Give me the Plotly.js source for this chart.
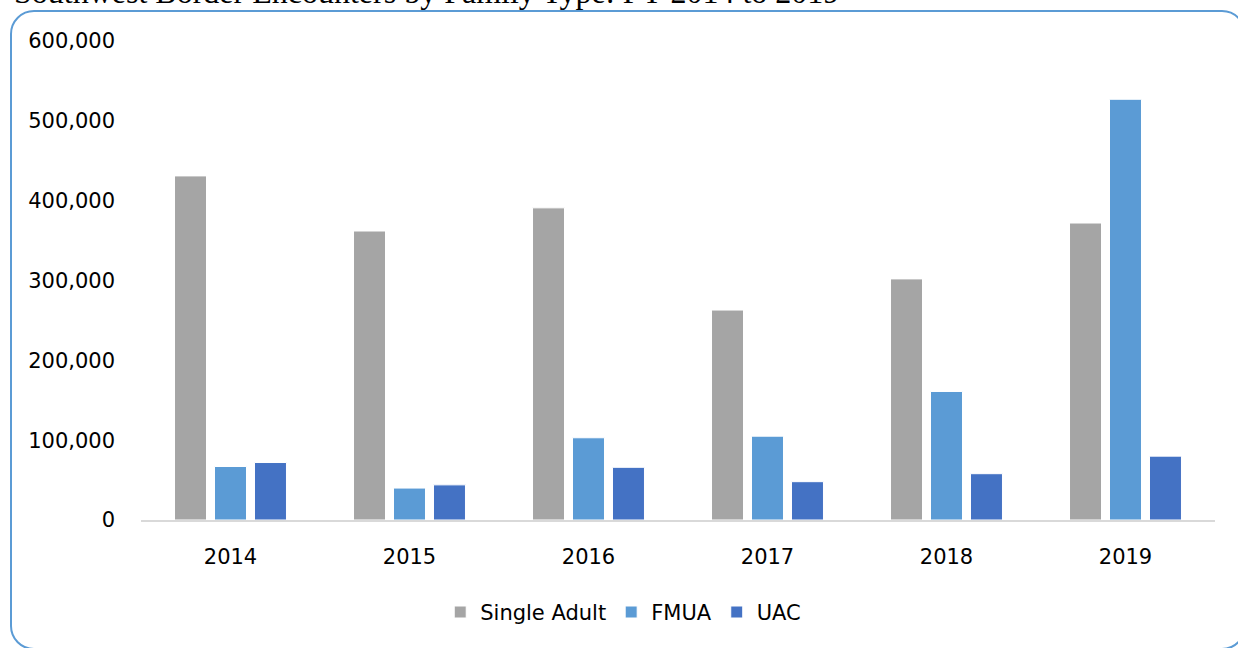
<!DOCTYPE html>
<html>
<head>
<meta charset="utf-8">
<script src="https://cdn.plot.ly/plotly-3.0.1.min.js"></script>
<style>
  html, body { margin: 0; padding: 0; background: #ffffff; overflow: hidden; }
  #frame { position: absolute; left: 10px; top: 10px; width: 1236px; height: 640px;
           border: 2px solid #5b9bd5; border-radius: 24px; box-sizing: border-box; }
  #chart { position: absolute; left: 0; top: 0; width: 1238px; height: 648px; }
</style>
</head>
<body>
<div id="frame"></div>
<div id="chart"></div>
<script>
const years = ["2014", "2015", "2016", "2017", "2018", "2019"];
const singleAdult = [431000, 362000, 391000, 263000, 302000, 372000];
const fmua = [67000, 40000, 103000, 105000, 161000, 527000];
const uac = [72000, 44000, 66000, 48000, 58000, 80000];
const seriesNames = ["Single Adult", "FMUA", "UAC"];
const seriesColors = ["#a5a5a5", "#5b9bd5", "#4472c4"];
const yTicks = [0, 100000, 200000, 300000, 400000, 500000, 600000];
const titleText = "Southwest Border Encounters by Family Type: FY 2014 to 2019";

const seriesValues = [singleAdult, fmua, uac];
const traces = seriesValues.map((vals, i) => ({
  type: "bar",
  name: seriesNames[i],
  x: years,
  y: vals,
  marker: { color: seriesColors[i], line: { color: "#ffffff", width: 1 } },
  hoverinfo: "x+y+name"
}));

const layout = {
  width: 1238,
  height: 648,
  margin: { l: 141, r: 23, t: 41, b: 128 },
  paper_bgcolor: "rgba(0,0,0,0)",
  plot_bgcolor: "rgba(0,0,0,0)",
  font: { family: "'DejaVu Sans', sans-serif", size: 21, color: "#000000" },
  barmode: "group",
  bargap: 0.33,
  bargroupgap: 0.2,
  showlegend: true,
  legend: {
    orientation: "h", x: 0.449, xanchor: "center", y: -0.15, yanchor: "top",
    font: { size: 21, color: "#000000" }, itemwidth: 30, traceorder: "normal"
  },
  xaxis: {
    type: "category",
    showgrid: false, zeroline: false,
    showline: true, linecolor: "#d9d9d9", linewidth: 2,
    ticks: "", ticklabelstandoff: 17,
    tickfont: { size: 21 }
  },
  yaxis: {
    range: [0, 600000],
    tickvals: yTicks,
    tickformat: ",d",
    showgrid: false, zeroline: false, showline: false,
    ticks: "", ticklabelstandoff: 25,
    tickfont: { size: 21 }
  },
  annotations: [{
    text: titleText,
    xref: "paper", yref: "paper",
    x: -0.12, xanchor: "left",
    y: 1.0605, yanchor: "bottom",
    showarrow: false,
    font: { family: "'Liberation Serif', 'Times New Roman', serif", size: 32, color: "#000000" }
  }]
};

Plotly.newPlot("chart", traces, layout, { displayModeBar: false, staticPlot: true });
</script>
</body>
</html>
